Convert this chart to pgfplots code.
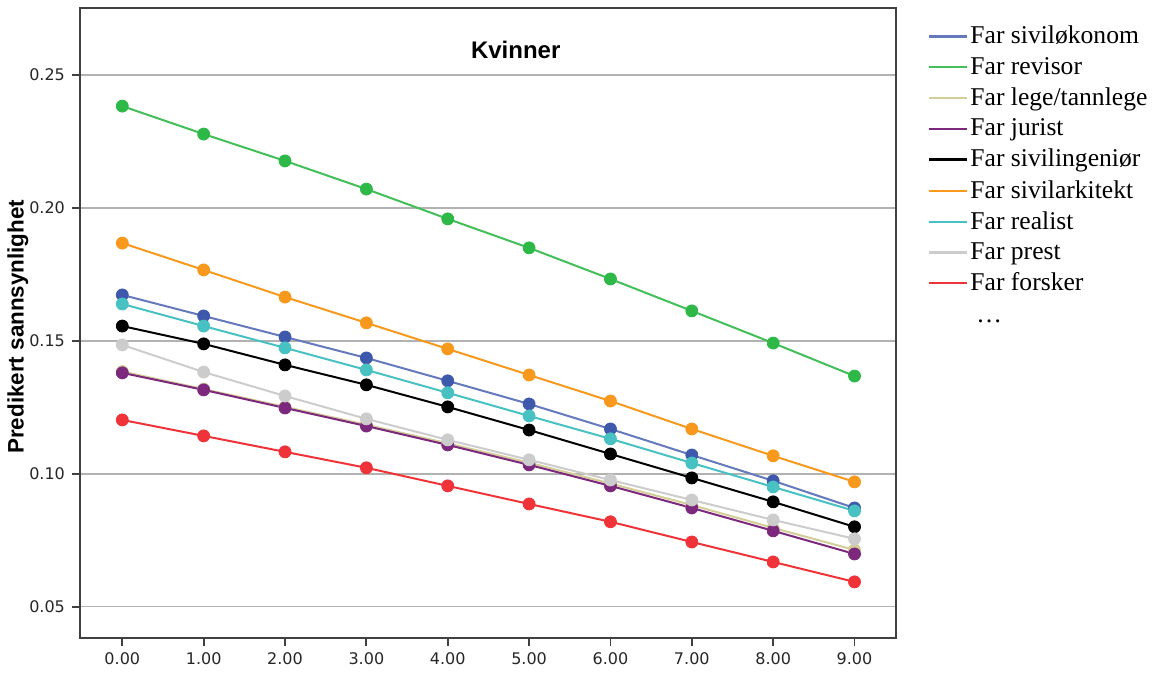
\documentclass[border=0pt]{standalone}
\usepackage{pgfplots}
\pgfplotsset{compat=1.18}
\usepackage{fontspec}
\setmainfont{Liberation Serif}
\newfontfamily\tickfont{DejaVu Sans}
\newfontfamily\labfont{Liberation Sans}
\definecolor{cBlue}{RGB}{62,88,172}
\definecolor{cGreen}{RGB}{46,184,72}
\definecolor{cTan}{RGB}{211,206,151}
\definecolor{cPurple}{RGB}{124,40,125}
\definecolor{cBlack}{RGB}{0,0,0}
\definecolor{cOrange}{RGB}{248,152,29}
\definecolor{cCyan}{RGB}{72,193,195}
\definecolor{cGrey}{RGB}{204,204,204}
\definecolor{cRed}{RGB}{239,51,56}
\begin{document}
\begin{tikzpicture}
\path[use as bounding box] (-40pt,-18.5pt) rectangle (538.5pt,319pt);
\begin{axis}[
  at={(0,0)}, anchor=south west,
  scale only axis, width=408pt, height=315pt,
  xmin=-0.52, xmax=9.51, ymin=0.0383, ymax=0.2752,
  xtick={0,1,...,9}, ytick={0.05,0.10,0.15,0.20,0.25},
  xticklabel style={/pgf/number format/.cd,fixed,fixed zerofill,precision=2},
  yticklabel style={/pgf/number format/.cd,fixed,fixed zerofill,precision=2},
  /pgf/number format/assume math mode=true,
  ticklabel style={font=\tickfont\fontsize{8}{9}\selectfont, text=black!85},
  tick align=outside, major tick length=4pt,
  tick style={line width=0.9pt, color=black!75},
  xtick pos=bottom, ytick pos=left,
  ymajorgrids, grid style={color=black!30, line width=0.6pt},
  axis line style={line width=0.8pt, color=black!75},
  ylabel={Predikert sannsynlighet},
  ylabel style={font=\labfont\bfseries\fontsize{11.2}{12}\selectfont, at={(axis description cs:-0.076,0.494)}, anchor=center},
  legend style={draw=none, fill=none, at={(axis description cs:1.039,0.975)}, anchor=north west,
    font=\fontsize{12.8}{13}\selectfont, row sep=3.2pt, inner sep=0pt,
    nodes={inner sep=1pt}},
  legend cell align=left,
  legend image code/.code={\draw[#1,mark=none,line width=1.1pt] (0pt,0pt) -- (19pt,0pt);},
  every axis plot/.append style={line width=1pt, mark=*, mark size=3pt},
]
\node[font=\labfont\bfseries\fontsize{12}{12}\selectfont] at (axis description cs:0.534,0.933) {Kvinner};
\addplot[color=cBlue!80, mark options={fill=cBlue, draw=cBlue, line width=0.4pt}] coordinates {(0,0.1673)(1,0.1594)(2,0.1515)(3,0.1436)(4,0.1350)(5,0.1263)(6,0.1169)(7,0.1071)(8,0.0974)(9,0.0872)};
\addlegendentry{Far siviløkonom}
\addplot[color=cGreen!90, mark options={fill=cGreen, draw=cGreen, line width=0.4pt}] coordinates {(0,0.2383)(1,0.2278)(2,0.2177)(3,0.2071)(4,0.1959)(5,0.1850)(6,0.1733)(7,0.1613)(8,0.1492)(9,0.1368)};
\addlegendentry{Far revisor}
\addplot[color=cTan, mark options={fill=cTan, draw=cTan, line width=0.4pt}] coordinates {(0,0.1385)(1,0.1319)(2,0.1252)(3,0.1185)(4,0.1115)(5,0.1042)(6,0.0964)(7,0.0883)(8,0.0797)(9,0.0714)};
\addlegendentry{Far lege/tannlege}
\addplot[color=cPurple, mark options={fill=cPurple, draw=cPurple, line width=0.4pt}] coordinates {(0,0.1380)(1,0.1316)(2,0.1248)(3,0.1180)(4,0.1109)(5,0.1034)(6,0.0955)(7,0.0872)(8,0.0786)(9,0.0699)};
\addlegendentry{Far jurist}
\addplot[color=cBlack, mark options={fill=cBlack, draw=cBlack, line width=0.4pt}] coordinates {(0,0.1556)(1,0.1489)(2,0.1410)(3,0.1335)(4,0.1252)(5,0.1165)(6,0.1075)(7,0.0985)(8,0.0895)(9,0.0801)};
\addlegendentry{Far sivilingeniør}
\addplot[color=cOrange, mark options={fill=cOrange, draw=cOrange, line width=0.4pt}] coordinates {(0,0.1868)(1,0.1767)(2,0.1665)(3,0.1568)(4,0.1470)(5,0.1372)(6,0.1274)(7,0.1169)(8,0.1068)(9,0.0970)};
\addlegendentry{Far sivilarkitekt}
\addplot[color=cCyan, mark options={fill=cCyan, draw=cCyan, line width=0.4pt}] coordinates {(0,0.1639)(1,0.1556)(2,0.1474)(3,0.1391)(4,0.1305)(5,0.1218)(6,0.1132)(7,0.1041)(8,0.0951)(9,0.0861)};
\addlegendentry{Far realist}
\addplot[color=cGrey, mark options={fill=cGrey, draw=cGrey, line width=0.4pt}] coordinates {(0,0.1485)(1,0.1383)(2,0.1293)(3,0.1207)(4,0.1128)(5,0.1053)(6,0.0977)(7,0.0902)(8,0.0827)(9,0.0756)};
\addlegendentry{Far prest}
\addplot[color=cRed, mark options={fill=cRed, draw=cRed, line width=0.4pt}] coordinates {(0,0.1203)(1,0.1143)(2,0.1083)(3,0.1023)(4,0.0955)(5,0.0887)(6,0.0820)(7,0.0744)(8,0.0669)(9,0.0594)};
\addlegendentry{Far forsker}
\addlegendimage{empty legend}
\addlegendentry{\strut\hspace{3pt}\dots}
\end{axis}
\end{tikzpicture}
\end{document}
